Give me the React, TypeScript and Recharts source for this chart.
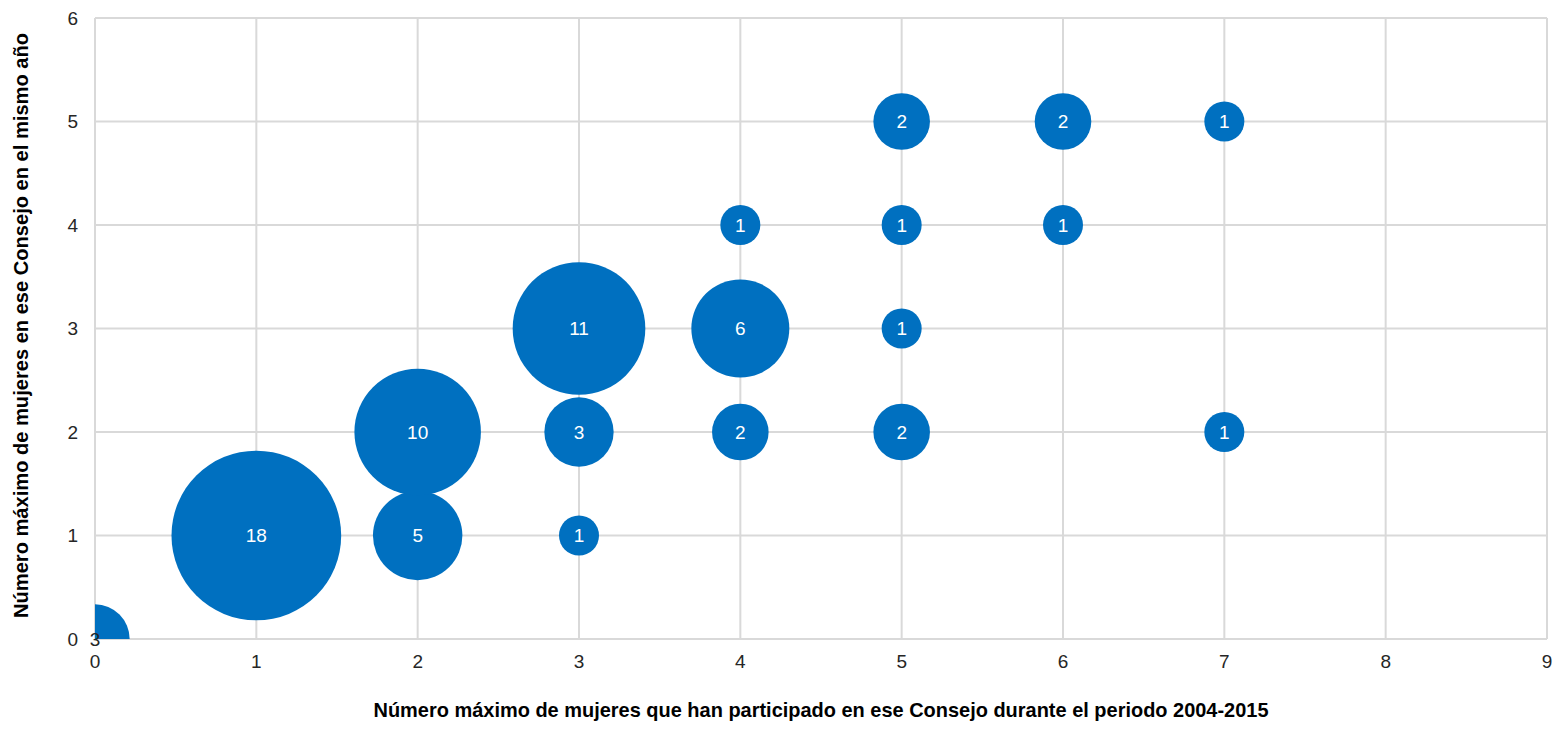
import React from "react";
import {
  ScatterChart,
  Scatter,
  XAxis,
  YAxis,
  ZAxis,
  CartesianGrid,
} from "recharts";

// max women ever on the board (x), max women in the same year (y), number of boards (z)
const maxTotal = [0, 1, 2, 2, 3, 3, 3, 4, 4, 4, 5, 5, 5, 5, 6, 6, 7, 7];
const maxSameYear = [0, 1, 1, 2, 1, 2, 3, 2, 3, 4, 2, 3, 4, 5, 4, 5, 2, 5];
const boards = [3, 18, 5, 10, 1, 3, 11, 2, 6, 1, 2, 1, 1, 2, 1, 2, 1, 1];

const xTicks = [0, 1, 2, 3, 4, 5, 6, 7, 8, 9];
const yTicks = [0, 1, 2, 3, 4, 5, 6];

const xTitle = "Número máximo de mujeres que han participado en ese Consejo durante el periodo 2004-2015";
const yTitle = "Número máximo de mujeres en ese Consejo en el mismo año";

const data = maxTotal.map((x, i) => ({ x, y: maxSameYear[i], z: boards[i] }));

const W = 1555;
const H = 731;
const M = { top: 18, right: 8, bottom: 0, left: 0 };
const Y_AXIS_W = 95;
const X_AXIS_H = 92;
const PLOT = {
  x: M.left + Y_AXIS_W,
  y: M.top,
  w: W - M.left - M.right - Y_AXIS_W,
  h: H - M.top - M.bottom - X_AXIS_H,
};

const BLUE = "#0070c0";
const GRID = "#d9d9d9";
const sans = "'Liberation Sans', Arial, sans-serif";
const tickFont = { fontFamily: sans, fontSize: 19, fill: "#262626" };

const Bubble = (props: any) => {
  const { cx, cy, size, payload } = props;
  const r = Math.sqrt(size / Math.PI);
  return (
    <g>
      <defs>
        <clipPath id="plot-clip">
          <rect x={PLOT.x} y={PLOT.y} width={PLOT.w} height={PLOT.h} />
        </clipPath>
      </defs>
      <circle cx={cx} cy={cy} r={r} fill={BLUE} clipPath="url(#plot-clip)" />
      <text
        x={cx}
        y={cy}
        dy="0.36em"
        textAnchor="middle"
        fill={cx <= PLOT.x + 1 ? "#262626" : "#fff"}
        fontFamily={sans}
        fontSize={19}
      >
        {payload.z}
      </text>
    </g>
  );
};

const XTitle = (props: any) => {
  const vb = props.viewBox;
  return (
    <text
      x={vb.x + vb.width / 2}
      y={vb.y + vb.height - 14}
      textAnchor="middle"
      fontFamily={sans}
      fontWeight="bold"
      fontSize={21}
      fill="#000"
      textLength={895}
      lengthAdjust="spacingAndGlyphs"
    >
      {xTitle}
    </text>
  );
};

const YTitle = (props: any) => {
  const vb = props.viewBox;
  const cx = 20;
  const cy = vb.y + vb.height / 2 - 3;
  return (
    <text
      x={cx}
      y={cy}
      dy="0.36em"
      textAnchor="middle"
      transform={`rotate(-90 ${cx} ${cy})`}
      fontFamily={sans}
      fontWeight="bold"
      fontSize={21}
      fill="#000"
      textLength={585}
      lengthAdjust="spacingAndGlyphs"
    >
      {yTitle}
    </text>
  );
};

export default function App() {
  return (
    <div style={{ position: "absolute", left: 0, top: 0 }}>
      <ScatterChart width={W} height={H} margin={M}>
        <CartesianGrid stroke={GRID} strokeWidth={2} />
        <XAxis
          type="number"
          dataKey="x"
          domain={[0, 9]}
          ticks={xTicks}
          height={X_AXIS_H}
          tickSize={0}
          tickMargin={16}
          tick={tickFont}
          axisLine={{ stroke: GRID, strokeWidth: 2 }}
          label={<XTitle />}
        />
        <YAxis
          type="number"
          dataKey="y"
          domain={[0, 6]}
          ticks={yTicks}
          width={Y_AXIS_W}
          tickSize={0}
          tickMargin={17}
          tick={tickFont}
          axisLine={{ stroke: GRID, strokeWidth: 2 }}
          label={<YTitle />}
        />
        <ZAxis type="number" dataKey="z" domain={[0, 18]} range={[0, 22619]} />
        <Scatter data={data} fill={BLUE} shape={<Bubble />} isAnimationActive={false} />
      </ScatterChart>
    </div>
  );
}
